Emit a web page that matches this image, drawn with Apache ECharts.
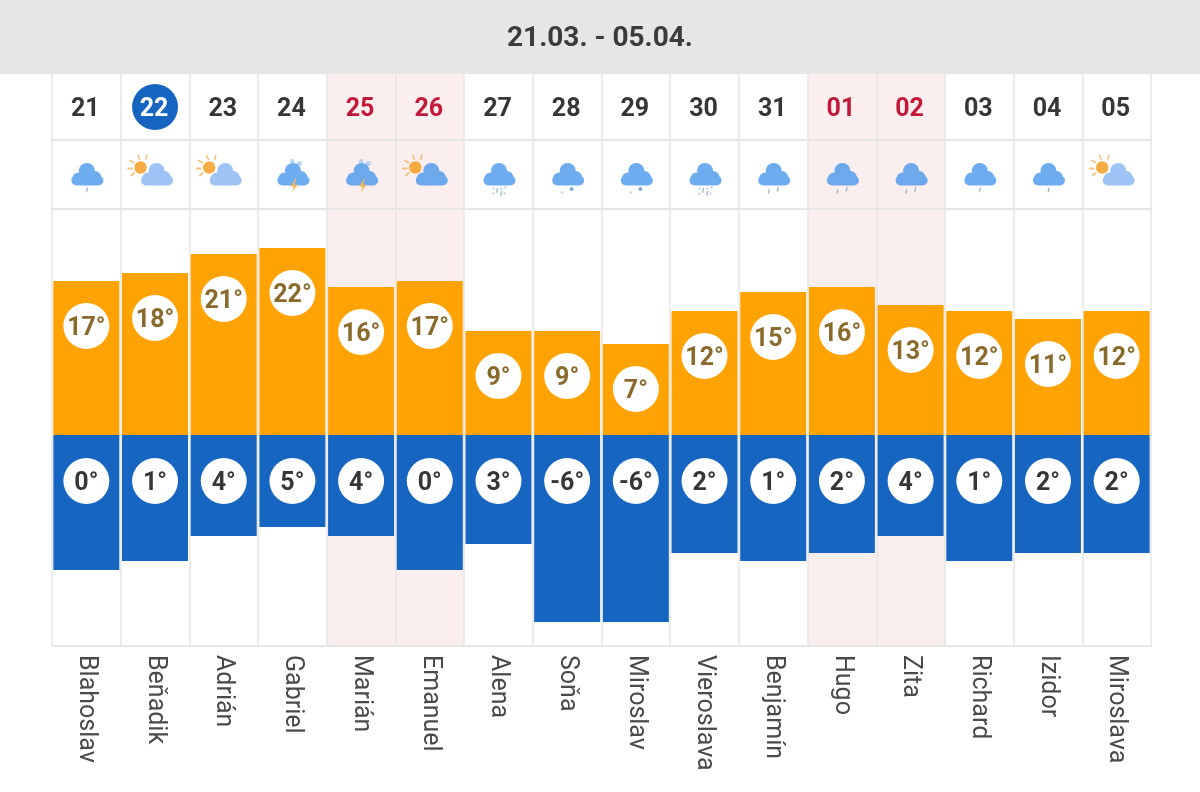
<!DOCTYPE html>
<html><head><meta charset="utf-8">
<style>html,body{margin:0;padding:0;background:#fff}#c{width:1200px;height:792px}</style>
<script src="https://cdn.jsdelivr.net/npm/echarts@6/dist/echarts.min.js"></script>
</head><body><div id="c"></div>
<script>
const title = '21.03. - 05.04.';
const days = ['21','22','23','24','25','26','27','28','29','30','31','01','02','03','04','05'];
const names = ['Blahoslav','Beňadik','Adrián','Gabriel','Marián','Emanuel','Alena','Soňa','Miroslav','Vieroslava','Benjamín','Hugo','Zita','Richard','Izidor','Miroslava'];
const weekendIdx = [4,5,11,12];
const todayIdx = 1;
const highTemps = [17,18,21,22,16,17,9,9,7,12,15,16,13,12,11,12];
const lowTemps = [0,1,4,5,4,0,3,-6,-6,2,1,2,4,1,2,2];
const highBars = [154,162,181,187,148,154,104,104,91,124,143,148,130,124,116,124];
const lowBars = [-135,-126,-101,-92,-101,-135,-109,-187,-187,-118,-126,-118,-101,-126,-118,-118];
const icons = ['rain1','sunPale','sunPale','storm','storm','sunBright','sleet','snow','snow','sleet','rain2','rain2','rain2','rain1','rain1','sunPale'];

const cloud = (c) => `<g fill="${c}"><circle cx="30.5" cy="21.5" r="8"/><circle cx="38.5" cy="28" r="6.5"/><circle cx="22" cy="29" r="6"/><rect x="15" y="26" width="32" height="10" rx="5"/></g>`;
const sun = `<g stroke="#f0b765" stroke-width="1.8" stroke-linecap="round"><path d="M5 11l3.5 2M3 19h4M6 26l3-2.5M13 6l1.5 3.5M22 6l-1 3.5"/></g><circle cx="15.5" cy="18" r="6.2" fill="#f59a14"/>`;
const drop = (x,y,c='#8fa7c4') => `<path d="M${x} ${y}l-0.7 3.6" stroke="${c}" stroke-width="1.4" stroke-linecap="round"/>`;
const dot = (x,y,r=1.3,c='#8fb4de') => `<circle cx="${x}" cy="${y}" r="${r}" fill="${c}"/>`;
const shapes = {
  rain1: cloud('#4a98ec') + drop(31,38.5),
  rain2: cloud('#4a98ec') + drop(26,40) + drop(35,38),
  sunPale: sun + `<g transform="translate(1,0)">${cloud('#86b6f5')}</g>`,
  sunBright: sun + `<g transform="translate(1,0)">${cloud('#4a98ec')}</g>`,
  storm: `<circle cx="37" cy="14" r="2.6" fill="#a9c9f2"/><circle cx="30" cy="12" r="2.4" fill="#a9c9f2"/>` + cloud('#4a98ec') + `<path d="M33 29l-5 8h3.4l-1.6 6 5.6-8h-3.6l2-6z" fill="#f4a63a"/>`,
  sleet: cloud('#4a98ec') + dot(25,39,1) + dot(33,39,1) + dot(37,38,1) + drop(29,39) + dot(25,44,1) + dot(36,44,1) + drop(33,42),
  snow: cloud('#4a98ec') + dot(25,43,1.5,'#c0d5ee') + dot(34.5,39.5,2,'#6a97cf')
};
const iconUri = (k) => 'image://data:image/svg+xml;charset=utf-8,' + encodeURIComponent(
  `<svg xmlns="http://www.w3.org/2000/svg" width="60" height="50" viewBox="0 0 60 50"><defs><filter id="b"><feGaussianBlur stdDeviation="0.45"/></filter></defs><g filter="url(#b)">${shapes[k]}</g></svg>`);

const LINE = '#e6e6e6';
const PINK = '#fbeeee';
const bandColors = days.map((_, i) => weekendIdx.includes(i) ? PINK : '#ffffff');
const xAxis = (gridIndex, extra) => Object.assign({
  type: 'category', gridIndex, data: days, boundaryGap: true,
  axisTick: {show: false}, axisLabel: {show: false},
  axisLine: {show: true, onZero: false, lineStyle: {color: LINE, width: 2}},
  splitLine: {show: true, interval: 0, lineStyle: {color: LINE, width: 1.5}},
  splitArea: {show: true, interval: 0, areaStyle: {color: bandColors}}
}, extra || {});
const yHidden = (gridIndex, min, max) => ({type: 'value', gridIndex, min, max, show: false, splitLine: {show: false}});

const FONT = 'Roboto';
const circleLabel = (color, temps, distance) => ({
  show: true, position: 'insideTop', distance,
  formatter: (p) => temps[p.dataIndex] + '°',
  width: 46, height: 41, lineHeight: 41, padding: [5, 0, 0, 0], align: 'center', verticalAlign: 'top',
  backgroundColor: '#fff', borderRadius: 23,
  color, fontFamily: FONT, fontSize: 25, fontWeight: 700
});

const option = {
  animation: false,
  backgroundColor: '#fff',
  title: {text: title, left: 'center', top: 20,
    textStyle: {fontFamily: FONT, fontSize: 28, fontWeight: 700, color: '#3b3b3b'}},
  graphic: [{type: 'rect', z: 0, shape: {x: 0, y: 0, width: 1200, height: 74}, style: {fill: '#e6e6e6'}}],
  grid: [
    {left: 52, width: 1099, top: 74, height: 66},
    {left: 52, width: 1099, top: 140, height: 69},
    {left: 52, width: 1099, top: 209, height: 437}
  ],
  xAxis: [
    xAxis(0), xAxis(1),
    xAxis(2, {data: names, axisLabel: {show: true, interval: 0, rotate: -90, margin: 9,
      color: '#4a4a4a', fontFamily: FONT, fontSize: 25}})
  ],
  yAxis: [yHidden(0, 0, 1), yHidden(1, 0, 1), yHidden(2, -211, 226)],
  series: [
    {type: 'scatter', xAxisIndex: 0, yAxisIndex: 0, silent: true,
     data: days.map((d, i) => ({
       value: [i, 0.5],
       symbolSize: i === todayIdx ? 46 : 0,
       itemStyle: {color: '#1565c0', opacity: 1},
       label: {show: true, position: 'inside', formatter: d, offset: [-1, 2.5],
         color: i === todayIdx ? '#fff' : weekendIdx.includes(i) ? '#c2183a' : '#363636',
         fontFamily: FONT, fontSize: 25, fontWeight: 700}
     }))},
    {type: 'scatter', xAxisIndex: 1, yAxisIndex: 1, silent: true,
     data: icons.map((k, i) => ({value: [i, 0.5], symbol: iconUri(k), symbolSize: [60, 50]}))},
    {type: 'bar', name: 'Max', xAxisIndex: 2, yAxisIndex: 2, stack: 't', barWidth: 66, silent: true,
     data: highBars, itemStyle: {color: '#ffa305'}, label: circleLabel('#8a6a2b', highTemps, 22)},
    {type: 'bar', name: 'Min', xAxisIndex: 2, yAxisIndex: 2, stack: 't', barWidth: 66, silent: true,
     data: lowBars, itemStyle: {color: '#1665c1'}, label: circleLabel('#363636', lowTemps, 23)}
  ]
};
echarts.init(document.getElementById('c'), null, {renderer: 'canvas'}).setOption(option);
</script></body></html>
